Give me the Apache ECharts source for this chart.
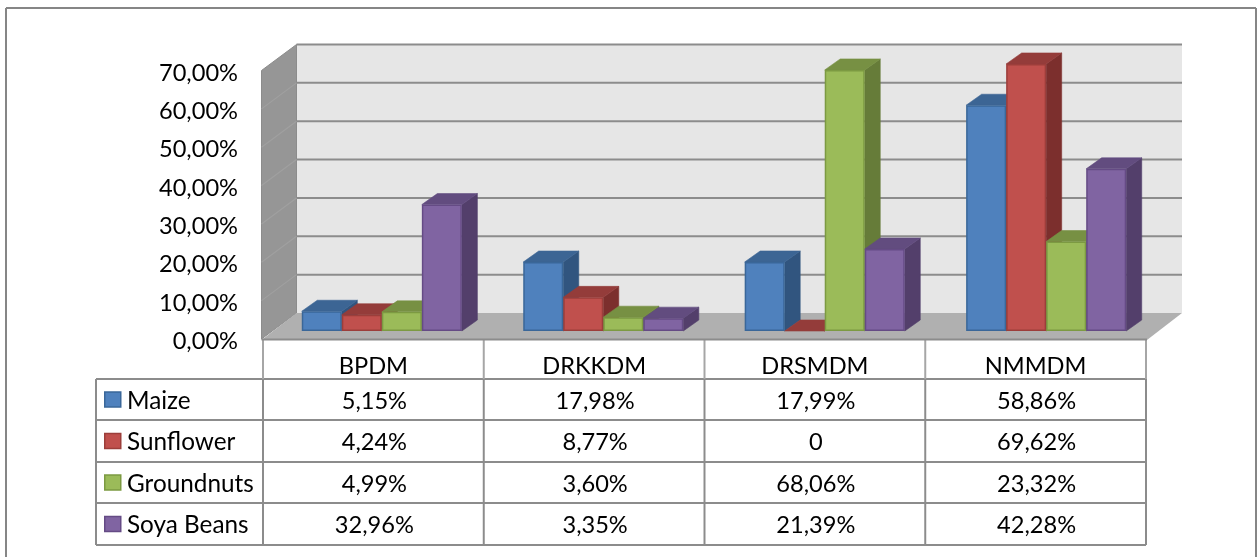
<!DOCTYPE html>
<html><head><meta charset="utf-8">
<style>html,body{margin:0;padding:0;background:#fff}#c{width:1257px;height:557px}</style>
<script src="https://cdn.jsdelivr.net/npm/echarts@6/dist/echarts.min.js"></script>
</head><body><div id="c"></div>
<script>
const categories = ['BPDM','DRKKDM','DRSMDM','NMMDM'];
const maize = [5.15,17.98,17.99,58.86];
const sunflower = [4.24,8.77,0,69.62];
const groundnuts = [4.99,3.60,68.06,23.32];
const soyaBeans = [32.96,3.35,21.39,42.28];
const seriesNames = ['Maize','Sunflower','Groundnuts','Soya Beans'];
const yTicks = [0,10,20,30,40,50,60,70];

const palettes = [
  {front:'#4F81BD',top:'#3C6594',side:'#31557F',line:'#3A6799'},
  {front:'#C0504D',top:'#943C3A',side:'#7C2F2D',line:'#9C3E3B'},
  {front:'#9BBB59',top:'#779043',side:'#667C39',line:'#7C9A42'},
  {front:'#8064A2',top:'#624C7F',side:'#533F6B',line:'#654B85'}
];
const FONT = 'Lato';
const FS = 23.6;
const FS_NAME = 24.3;
const GL = 263, GT = 70.5, GW = 883, GH = 268.5;
const DX = 35, DY = 26;         // wall depth
const BX = 9.5, BY = 8;         // bar offset inside depth
const BDX = 15.5, BDY = 11;     // bar depth
const BAND_EXTRA = 0.7;         // bars spread slightly wider than the table columns
const rows = [379,420,462,503,545];
const tableLeft = 96;
const GRID = '#8C8C8C';
const allValues = [maize,sunflower,groundnuts,soyaBeans];
const fmt = v => v === 0 ? '0' : v.toFixed(2).replace('.',',') + '%';

function poly(points, fill, stroke, lw){
  return {type:'polygon',shape:{points},style:{fill,stroke:stroke||fill,lineWidth:lw==null?0.6:lw}};
}
function bar(si){
  return function(params, api){
    const cat = api.value(0), val = api.value(1);
    const c0 = api.coord([cat,0]), c1 = api.coord([cat,val]);
    const w = api.size([1,0])[0]*0.1813;
    const x0 = c0[0]+BX+(cat-1.5)*BAND_EXTRA+(si-2)*w, x1 = x0+w;
    const yb = c0[1]-BY, yt = c1[1]-BY;
    const p = palettes[si];
    const kids = [
      poly([[x1,yb],[x1,yt],[x1+BDX,yt-BDY],[x1+BDX,yb-BDY]],p.side),
      poly([[x0,yt],[x1,yt],[x1+BDX,yt-BDY],[x0+BDX,yt-BDY]],p.top)
    ];
    if (val>0) kids.push({type:'rect',shape:{x:x0+0.75,y:yt+0.75,width:w-1.5,height:yb-yt-1.5},style:{fill:p.front,stroke:p.line,lineWidth:1.5}});
    return {type:'group',children:kids};
  };
}
function walls(params, api){
  const o = api.coord([0,0]), t = api.coord([0,70]);
  const left = GL-1.5, right = GL+GW+1;
  const kids = [
    poly([[left+DX,t[1]-DY],[right+DX,t[1]-DY],[right+DX,o[1]-DY],[left+DX,o[1]-DY]],'#E6E6E6','#E6E6E6',0),
    poly([[left,o[1]],[left,t[1]],[left+DX,t[1]-DY],[left+DX,o[1]-DY]],'#969696','#8C8C8C',1),
    poly([[left,o[1]+1],[left+DX,o[1]-DY],[right+DX,o[1]-DY],[right,o[1]+1]],'#B0B0B0','#B0B0B0',0)
  ];
  yTicks.forEach(v=>{
    const y = api.coord([0,v])[1];
    if (v>0) kids.push({type:'line',shape:{x1:left+DX,y1:y-DY,x2:right+DX,y2:y-DY},style:{stroke:GRID,lineWidth:2}});
    if (v>0 && v<70) kids.push({type:'line',shape:{x1:left,y1:y,x2:left+DX,y2:y-DY},style:{stroke:'#A0A0A0',lineWidth:1.2}});
  });
  kids.push({type:'line',shape:{x1:left,y1:o[1]+0.5,x2:right,y2:o[1]+0.5},style:{stroke:GRID,lineWidth:2}});
  return {type:'group',children:kids};
}

// table drawn from the arrays
const gfx = [];
const colW = GW/categories.length;
const line = (x1,y1,x2,y2,color) => gfx.push({type:'line',silent:true,shape:{x1,y1,x2,y2},style:{stroke:color||GRID,lineWidth:2}});
// outer frame
line(6,8,1256,8,'#868686'); line(6,8,6,557,'#868686'); line(1256,8,1256,557,'#868686');
rows.forEach((y)=>line(tableLeft,y,GL+GW,y));
line(tableLeft,rows[0],tableLeft,rows[4]);
for(let i=0;i<=categories.length;i++){
  const x = GL+i*colW;
  line(x,340,x,rows[0],'#A6A6A6');
  line(x,rows[0],x,rows[4]);
}
seriesNames.forEach((name,r)=>{
  const yc = (rows[r]+rows[r+1])/2;
  gfx.push({type:'rect',silent:true,shape:{x:104.75,y:yc-7.5,width:16,height:15},style:{fill:palettes[r].front,stroke:palettes[r].line,lineWidth:1.5}});
  gfx.push({type:'text',silent:true,x:127,y:yc+1.5,style:{text:name,font:FS_NAME+'px '+FONT,fill:'#000',verticalAlign:'middle',align:'left'}});
  categories.forEach((c,i)=>{
    gfx.push({type:'text',silent:true,x:GL+(i+0.5)*colW+1,y:yc+1.5,style:{text:fmt(allValues[r][i]),font:FS+'px '+FONT,fill:'#000',verticalAlign:'middle',align:'center'}});
  });
});

const chart = echarts.init(document.getElementById('c'),null,{renderer:'canvas'});
chart.setOption({
  animation:false,
  backgroundColor:'#fff',
  grid:{left:GL,top:GT,width:GW,height:GH,containLabel:false},
  xAxis:{type:'category',data:categories,axisLine:{show:false},axisTick:{show:false},splitLine:{show:false},
    axisLabel:{color:'#000',fontFamily:FONT,fontSize:FS,margin:15}},
  yAxis:{type:'value',min:0,max:70,interval:10,axisLine:{show:false},axisTick:{show:false},splitLine:{show:false},
    axisLabel:{color:'#000',fontFamily:FONT,fontSize:FS,margin:25,verticalAlign:'top',lineHeight:5,formatter:v=>v.toFixed(2).replace('.',',')+'%'}},
  graphic:{elements:gfx},
  series:[
    {type:'custom',name:'walls',silent:true,z:1,clip:false,renderItem:walls,data:[[0,0]],encode:{x:0,y:1}},
    ...allValues.map((vals,si)=>({type:'custom',name:seriesNames[si],z:2+si,clip:false,renderItem:bar(si),
      encode:{x:0,y:1},data:vals.map((v,i)=>[i,v])}))
  ]
});
</script></body></html>
